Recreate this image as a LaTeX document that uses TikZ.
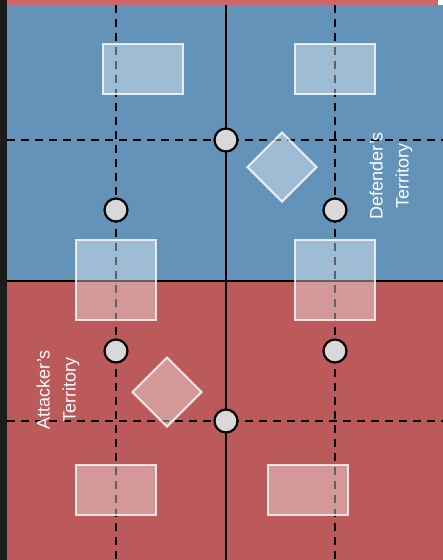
\documentclass[tikz,border=0pt]{standalone}
\usepackage{fontspec}
\setsansfont{Liberation Sans}
\usetikzlibrary{shapes.geometric, positioning}
\definecolor{defblue}{RGB}{99,147,185}
\definecolor{attred}{RGB}{187,89,91}
\definecolor{stripred}{RGB}{207,100,106}
\definecolor{edgedark}{RGB}{28,28,28}
\definecolor{spotgray}{RGB}{217,217,217}

\begin{document}
\begin{tikzpicture}[
  x=1pt, y=-1pt,
  grid/.style={line width=2.2pt, black},
  lane/.style={line width=2.2pt, black, dash pattern=on 8pt off 6pt},
  site/.style={rectangle, draw=white, draw opacity=0.8, fill=white, fill opacity=0.38, line width=2pt, inner sep=0pt},
  obj/.style={diamond, aspect=1, draw=white, draw opacity=0.8, fill=white, fill opacity=0.38, line width=2pt, inner sep=0pt, minimum size=70pt},
  spot/.style={circle, draw=black, fill=spotgray, line width=2.2pt, inner sep=0pt, minimum size=23pt},
  zone/.style={text=white, font=\sffamily\fontsize{18}{26}\selectfont, align=center, rotate=90}
]
\useasboundingbox (0,0) rectangle (443,560);

% Regions
\fill[defblue] (7,5) rectangle (443,281);
\fill[attred] (7,281) rectangle (443,560);
\fill[stripred] (7,0) rectangle (438,5);
\fill[edgedark] (0,0) rectangle (7,560);

% Axes
\coordinate (top) at (226,5);
\coordinate (bot) at (226,560);
\coordinate (wl) at (7,281);
\coordinate (wr) at (443,281);
\draw[grid] (top) -- (bot);
\draw[grid] (wl) -- (wr);

% Lanes
\draw[lane] (116,5) -- (116,560);
\draw[lane] (335,5) -- (335,560);
\draw[lane] (7,140) -- (443,140);
\draw[lane] (7,421) -- (443,421);

% Sites
\node[site, minimum width=80pt, minimum height=50pt] (s1) at (143,69) {};
\node[site, minimum width=80pt, minimum height=50pt] (s2) at (335,69) {};
\node[site, minimum width=80pt, minimum height=80pt] (s3) at (116,280) {};
\node[site, minimum width=80pt, minimum height=80pt] (s4) at (335,280) {};
\node[site, minimum width=80pt, minimum height=50pt] (s5) at (116,490) {};
\node[site, minimum width=80pt, minimum height=50pt] (s6) at (308,490) {};

% Objectives
\node[obj] (o1) at (282,167) {};
\node[obj] (o2) at (167,392) {};

% Spots
\node[spot] (c1) at (226,140) {};
\node[spot] (c2) at (116,210) {};
\node[spot] (c3) at (335,210) {};
\node[spot] (c4) at (116,351) {};
\node[spot] (c5) at (335,351) {};
\node[spot] (c6) at (226,421) {};

% Labels
\node[zone] (def) at (391,176) {Defender's\\Territory};
\node[zone] (att) at (58,390) {Attacker's\\Territory};

\end{tikzpicture}
\end{document}
